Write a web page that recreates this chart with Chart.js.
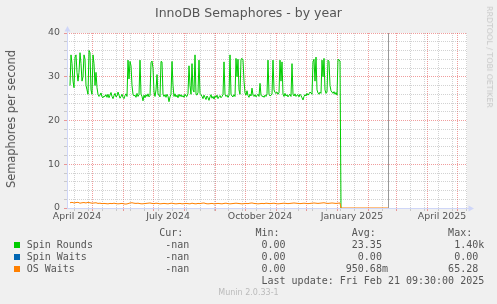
<!DOCTYPE html>
<html>
<head>
<meta charset="utf-8">
<script src="https://cdn.jsdelivr.net/npm/chart.js@4/dist/chart.umd.min.js"></script>
<style>
  body { margin: 0; background: #f0f0f0; }
  #wrap { position: relative; width: 497px; height: 304px; overflow: hidden; font-family: 'DejaVu Sans', sans-serif; color: #555; }
  #chart { position: absolute; left: 0; top: 0; }
  .txt { position: absolute; white-space: pre; margin: 0; }
  .sq { position: absolute; width: 6px; height: 6px; }
</style>
</head>
<body>
<div id="wrap">
  <canvas id="chart" width="497" height="304"></canvas>
  <div class="txt" style="left:0;width:497px;text-align:center;top:4.8px;font-size:12.5px;line-height:16px;">InnoDB Semaphores - by year</div>
  <div class="txt" style="left:10.8px;top:119px;font-size:11.4px;line-height:14px;transform:translate(-50%,-50%) rotate(-90deg);">Semaphores per second</div>
  <div class="txt" style="left:489px;top:56.5px;font-size:7.9px;line-height:10px;color:#c8c8c8;transform:translate(-50%,-50%) rotate(90deg);">RRDTOOL / TOBI OETIKER</div>
  <pre id="legend" class="txt" style="left:26.7px;top:227.3px;font-family:'DejaVu Sans Mono',monospace;font-size:10px;line-height:12px;"></pre>
  <div class="txt" style="left:0;width:497px;text-align:center;top:287.5px;font-size:8px;line-height:10px;color:#bbb;">Munin 2.0.33-1</div>
</div>
<script>
// days are counted from 1 April 2024 (day 0)
const xMin = 5
const xMax = 405
const lastUpdateDay = 326

// Spin Rounds, one value per day starting at day 8
const spinRoundsStart = 8
const spinRounds = [
  28, 35, 33, 29, 27.5, 34.5, 35, 31, 29, 31, 35.5, 33, 29, 30, 35, 34, 28, 27, 26, 36, 35.5, 27, 26, 35, 33, 28, 31, 27.5, 26,
  25.5, 25.8, 26.3, 25.4, 25.2, 25.6, 25.5, 25.9, 25.3, 26.0, 25.2, 25.8, 26.4, 25.5, 25.0, 25.7, 26.2, 25.4, 25.6, 26.5, 25.8, 25.1, 25.5, 26.0, 25.3, 25.0, 25.7, 26.1, 25.5,
  33.8, 29.5, 33.5, 32.5, 28, 26, 25.6,
  25.8, 25.3, 26.2, 25.5, 25.9,
  33.8, 26,
  25.5, 24.5, 25.8, 25.2, 25.9, 25.5, 26.1, 25.4, 25.7,
  33.2, 33.6, 32, 26.5, 25.5, 27, 30.5, 26, 25.8, 25.4, 33.5, 33.4, 26,
  25.5, 25.9, 25.3, 26.0, 25.5, 24.3, 25.4, 26, 33.5, 28, 25.5, 26.1, 25.4, 25.8, 25.2, 26.0, 25.5, 25.9, 25.4, 25.7, 25.3, 26.0, 25.6, 25.5, 26.2,
  32.5, 28, 26, 33, 27, 26.5, 35, 26, 25.8, 26.4, 33.8, 26.2, 25.9,
  25.5, 25.0, 25.8, 25.3, 24.8, 25.6, 25.2, 24.6, 25.4, 25.9, 25.1, 25.5, 24.9, 25.6, 25.3, 25.8, 25.0, 25.4, 25.7, 25.2, 25.5, 25.9,
  33.4, 26, 25.5, 25.8, 25.3, 25.7,
  35, 26, 25.6, 25.4, 25.9, 25.5,
  34.2, 30, 34, 27, 26, 34, 34.2, 33.8, 29, 26.3, 25.8, 26.8, 25.7, 25.3, 26, 25.6, 27.4, 25.8, 25.5, 25.9, 25.4, 25.7, 26, 25.5, 28.5, 25.8, 25.5, 25.6, 25.3, 25.8, 25.5, 26.1,
  33.8, 26, 25.6, 25.8, 26, 33.8, 27, 26.4, 26.2, 26.5, 26, 26.3, 33.8, 29, 33.4, 26, 25.5, 26.2, 25.6, 25.9, 25.4, 25.8, 26, 25.5, 33, 26,
  25.6, 26.1, 25.5, 25.8, 25.9, 25.4, 26, 25.7, 25.2, 24.7, 25.5, 25.9, 25.6, 26.2, 25.8, 26.1, 26.5, 26.3, 26.0,
  33.4, 34, 29, 34.5, 27, 26.3, 26.0, 26.5, 26.2, 33.8, 30, 34.2, 27, 26.2, 26.5, 33.8, 33.5, 28, 26.8, 26.5, 26.2, 26.6, 26.0, 26.4, 25.8, 34, 33.8, 33.6, 0
]

// OS Waits, one value every 2 days starting at day 8
const osWaitsStart = 8
const osWaitsStep = 2
const osWaits = [
  1.2, 1.3, 1.15, 1.25, 1.3, 1.1, 1.2, 1.25, 1.15, 1.3, 1.2, 1.1, 1.15, 1.2, 1.05, 1.1, 1.0,
  1.05, 1.0, 0.95, 1.05, 1.0, 1.1, 1.0, 0.95, 1.0, 1.05, 0.95, 0.9, 1.0, 1.15, 1.2, 1.1, 1.05, 1.1, 1.0, 0.95,
  1.0, 1.05, 1.1, 1.15, 1.05, 1.0, 1.1, 1.05, 0.95, 1.0, 1.05, 1.0, 0.95, 1.05, 1.1, 1.0, 0.95, 1.0, 1.05, 0.95,
  1.0, 1.05, 1.0, 0.95, 1.1, 1.0, 0.95, 1.05, 1.0, 1.1, 1.15, 1.0, 0.95, 1.0, 1.05, 0.95, 1.0, 1.05, 1.0, 0.95,
  1.05, 1.1, 1.0, 0.95, 1.0, 1.05, 1.1, 1.05, 1.0, 0.95, 1.0, 1.05, 1.0, 1.1, 1.15, 1.05, 1.0, 0.95, 1.0, 1.05,
  1.0, 1.1, 1.05, 1.0, 1.05, 1.1, 1.0, 0.95, 1.0, 1.05, 1.1, 1.05, 1.0, 1.05, 1.1, 1.15, 1.1, 1.05, 1.0, 1.05,
  1.1, 1.05, 1.0, 1.05, 1.1, 1.15, 1.1, 1.05, 1.1, 1.15, 1.2, 1.1, 1.05, 1.1, 1.15, 1.1, 1.05, 1.1, 1.15
]

// OS Waits sits flat at zero after the data stops
const tailDays = [279, 326]
const tailValues = [0, 0]

// Spin Waits stays at zero
const spinWaitsDays = [8, 326]
const spinWaits = [0, 0]

const tickLabels = ['April 2024', 'July 2024', 'October 2024', 'January 2025', 'April 2025']
const tickLabelMonths = [[2024, 3], [2024, 6], [2024, 9], [2025, 0], [2025, 3]]
const yTickLabels = [0, 10, 20, 30, 40]

const seriesNames = ['Spin Rounds', 'Spin Waits', 'OS Waits']
const seriesColors = ['#00cc00', '#0066b3', '#ff8000']
const curValues = ['-nan', '-nan', '-nan']
const minValues = ['0.00', '0.00', '0.00']
const avgValues = ['23.35', '0.00', '950.68m']
const maxValues = ['1.40k', '0.00', '65.28']
const lastUpdate = 'Last update: Fri Feb 21 09:30:00 2025'

const MGRID = 'rgba(225, 60, 60, 0.5)'
const GRID = 'rgba(143, 143, 143, 0.4)'
const AXIS = '#cfd6f8'

const dayOf = (y, m, d = 1) => Math.round((Date.UTC(y, m, d) - Date.UTC(2024, 3, 1)) / 864e5)

// x grid: red at month starts, grey every second week, labels half a month after the month start
const xKind = new Map()
for (let d = 12; d <= xMax; d += 14) xKind.set(d, 'minor')
for (let k = 0; k <= 13; k++) xKind.set(dayOf(2024, 3 + k), 'major')
const labelAt = new Map()
tickLabelMonths.forEach(([y, m], i) => {
  const d = dayOf(y, m) + 15
  xKind.set(d, 'label')
  labelAt.set(d, tickLabels[i])
})

const points = (start, step, values) => values.map((v, i) => ({ x: start + i * step, y: v }))
const pairs = (xs, ys) => xs.map((x, i) => ({ x, y: ys[i] }))

// legend block, monospace columns
function rightAt(end, v) {
  const m = v.match(/^(.*?)([kmMG]?)$/)
  return [end - m[1].length, v]
}
function row(parts) {
  let s = ''
  parts.forEach(([col, txt]) => { s = s.padEnd(col) + txt })
  return s
}
const legendLines = [row([[22, 'Cur:'], [38, 'Min:'], [54, 'Avg:'], [70, 'Max:']])]
seriesNames.forEach((name, i) => {
  legendLines.push(row([[0, name], rightAt(27, curValues[i]), rightAt(43, minValues[i]), rightAt(59, avgValues[i]), rightAt(75, maxValues[i])]))
})
legendLines.push(row([[39, lastUpdate]]))
document.getElementById('legend').textContent = legendLines.join('\n')
seriesColors.forEach((c, i) => {
  const sq = document.createElement('div')
  sq.className = 'sq'
  sq.style.left = '14px'
  sq.style.top = (242.3 + i * 12) + 'px'
  sq.style.background = c
  document.getElementById('wrap').appendChild(sq)
})

const muninFrame = {
  id: 'muninFrame',
  beforeDraw(chart) {
    const { ctx, chartArea: a } = chart
    ctx.save()
    ctx.fillStyle = '#ffffff'
    ctx.fillRect(a.left, a.top, a.right - a.left, a.bottom - a.top)
    ctx.restore()
  },
  beforeDatasetDraw(chart, args) {
    // Spin Waits sits on the axis row, which is then painted over it
    if (args.index !== 1) return
    chart.ctx.save()
    chart.ctx.translate(0, 0.5)
  },
  afterDatasetDraw(chart, args) {
    if (args.index !== 1) return
    chart.ctx.restore()
    const { ctx, chartArea: a } = chart
    ctx.save()
    ctx.fillStyle = AXIS
    ctx.fillRect(a.left, a.bottom, a.right - a.left + 2, 1)
    ctx.fillRect(a.left, a.top - 3, 1, a.bottom - a.top + 4)
    ctx.beginPath()
    ctx.moveTo(a.right + 1.5, a.bottom - 2.5)
    ctx.lineTo(a.right + 7, a.bottom + 0.5)
    ctx.lineTo(a.right + 1.5, a.bottom + 3.5)
    ctx.closePath()
    ctx.fill()
    ctx.beginPath()
    ctx.moveTo(a.left - 2.5, a.top - 1.5)
    ctx.lineTo(a.left + 0.5, a.top - 7)
    ctx.lineTo(a.left + 3.5, a.top - 1.5)
    ctx.closePath()
    ctx.fill()
    ctx.restore()
  },
  afterDatasetsDraw(chart) {
    const { ctx, chartArea: a, scales } = chart
    const x = Math.round(scales.x.getPixelForValue(lastUpdateDay)) + 0.5
    ctx.save()
    ctx.strokeStyle = '#999999'
    ctx.lineWidth = 1
    ctx.beginPath()
    ctx.moveTo(x, a.top)
    ctx.lineTo(x, a.bottom)
    ctx.stroke()
    ctx.restore()
  }
}

Chart.defaults.font.family = "'DejaVu Sans', sans-serif"
Chart.defaults.color = '#555'

new Chart(document.getElementById('chart'), {
  type: 'line',
  data: {
    datasets: [
      {
        label: seriesNames[0],
        data: points(spinRoundsStart, 1, spinRounds),
        borderColor: seriesColors[0],
        order: 1
      },
      {
        label: seriesNames[1],
        data: pairs(spinWaitsDays, spinWaits),
        borderColor: seriesColors[1],
        order: 2
      },
      {
        label: seriesNames[2],
        data: points(osWaitsStart, osWaitsStep, osWaits).concat(pairs(tailDays, tailValues)),
        borderColor: seriesColors[2],
        order: 0
      }
    ]
  },
  options: {
    responsive: false,
    animation: false,
    devicePixelRatio: 1,
    layout: { padding: { left: 0, right: 30, top: 33, bottom: 82 } },
    elements: {
      line: { borderWidth: 1, tension: 0 },
      point: { radius: 0, hoverRadius: 0 }
    },
    plugins: { legend: { display: false }, tooltip: { enabled: false } },
    scales: {
      x: {
        type: 'linear',
        min: xMin,
        max: xMax,
        afterBuildTicks: scale => {
          scale.ticks = [...xKind.keys()].filter(d => d >= xMin && d <= xMax).sort((p, q) => p - q).map(v => ({ value: v }))
        },
        afterFit: scale => { scale.height = 14 },
        ticks: {
          autoSkip: false,
          maxRotation: 0,
          minRotation: 0,
          padding: 0,
          font: { size: 9.4 },
          color: '#555',
          callback: v => labelAt.get(v) || ''
        },
        grid: {
          tickLength: 3,
          color: c => {
            const k = xKind.get(c.tick && c.tick.value)
            return k === 'major' ? MGRID : k === 'minor' ? GRID : 'rgba(0,0,0,0)'
          }
        },
        border: { display: false, dash: [1, 1] }
      },
      y: {
        min: 0,
        max: 40,
        afterFit: scale => { scale.width = 67 },
        ticks: {
          stepSize: 2,
          autoSkip: false,
          padding: 4,
          font: { size: 9.4 },
          color: '#555',
          callback: v => yTickLabels.includes(v) ? String(v) : ''
        },
        grid: {
          tickLength: 3,
          color: c => (c.tick && c.tick.value % 10 === 0) ? MGRID : GRID
        },
        border: { display: false, dash: [1, 1] }
      }
    }
  },
  plugins: [muninFrame]
})
</script>
</body>
</html>
